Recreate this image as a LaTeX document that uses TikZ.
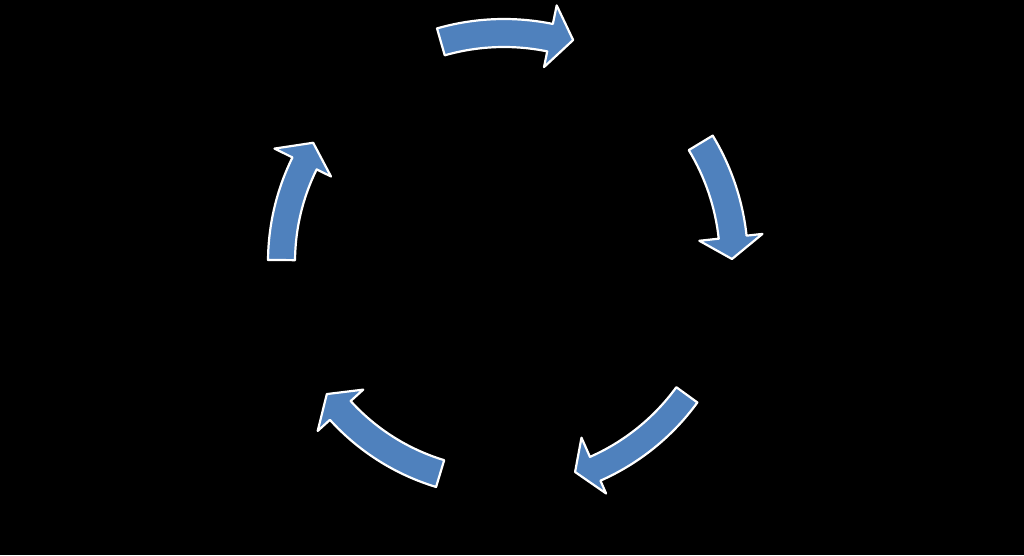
\documentclass[tikz,border=0pt]{standalone}
\begin{document}
\begin{tikzpicture}[x=1pt,y=1pt,
  cyc/.style={fill=cycblue,draw=white,line width=2.2pt,line join=round}]
\definecolor{cycblue}{RGB}{79,129,189}
\fill[black] (0,0) rectangle (1024,555);
\useasboundingbox (0,0) rectangle (1024,555);
\coordinate (C) at (504,293);
% #1 tail angle, #2 head base angle, #3 tip angle, #4 inner r, #5 outer r, #6 head inner r, #7 head outer r, #8 tip r
\newcommand\cycarrow[8]{%
  \draw[cyc] ([shift={(#1:#5pt)}]C) arc[start angle=#1, end angle=#2, radius=#5pt]
    -- ([shift={(#2:#7pt)}]C) -- ([shift={(#3:#8pt)}]C) -- ([shift={(#2:#6pt)}]C)
    -- ([shift={(#2:#4pt)}]C) arc[start angle=#2, end angle=#1, radius=#4pt] -- cycle;}
\cycarrow{106}{78.4}{72.7}{215}{243}{199}{262}{232.5}
\cycarrow{31.2}{6.2}{0.75}{216}{244}{196.5}{260}{228}
\cycarrow{-36}{-66.2}{-71.3}{213}{239}{192}{253}{221.7}
\cycarrow{-106.8}{-137.8}{-143.3}{207}{235}{190}{251.5}{221}
\cycarrow{179.5}{153.7}{148}{209}{236}{193}{256}{225}
\end{tikzpicture}
\end{document}
